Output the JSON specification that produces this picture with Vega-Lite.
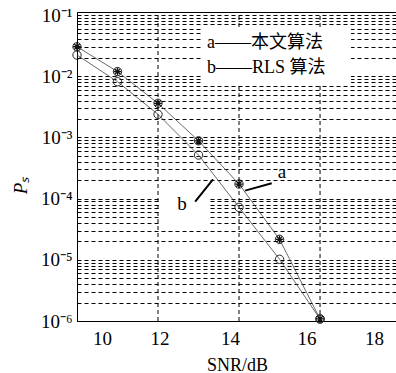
{
  "$schema": "https://vega.github.io/schema/vega-lite/v6.json",
  "width": 320,
  "height": 309,
  "autosize": {"type": "none"},
  "padding": {"left": 77, "top": 12, "right": 0, "bottom": 52},
  "background": "white",
  "config": {"view": {"stroke": "black", "strokeWidth": 1}, "font": "Liberation Serif"},
  "datasets": {
    "curves": [
      {"snr": 9.2, "ps": 0.0303, "series": "a"},
      {"snr": 10.4, "ps": 0.0119, "series": "a"},
      {"snr": 11.6, "ps": 0.00361, "series": "a"},
      {"snr": 12.8, "ps": 0.00088, "series": "a"},
      {"snr": 14.0, "ps": 0.000173, "series": "a"},
      {"snr": 15.2, "ps": 0.0000216, "series": "a"},
      {"snr": 16.4, "ps": 0.00000108, "series": "a"},
      {"snr": 9.2, "ps": 0.0222, "series": "b"},
      {"snr": 10.4, "ps": 0.00813, "series": "b"},
      {"snr": 11.6, "ps": 0.00238, "series": "b"},
      {"snr": 12.8, "ps": 0.000515, "series": "b"},
      {"snr": 14.0, "ps": 0.000072, "series": "b"},
      {"snr": 15.2, "ps": 0.0000102, "series": "b"},
      {"snr": 16.4, "ps": 0.00000108, "series": "b"}
    ],
    "vgrid": [
      {"snr": 11.6, "ps": 0.000001, "ps2": 0.112},
      {"snr": 14.0, "ps": 0.000001, "ps2": 0.112},
      {"snr": 16.4, "ps": 0.000001, "ps2": 0.112}
    ],
    "boxes": [
      {"snr": 12.93, "snr2": 17.32, "ps": 0.0613, "ps2": 0.00718},
      {"snr": 11.63, "snr2": 13.08, "ps": 0.000128, "ps2": 0.000037}
    ],
    "legend": [
      {"snr": 13.05, "ps": 0.0349, "label": "a——本文算法"},
      {"snr": 13.05, "ps": 0.0136, "label": "b——RLS 算法"}
    ],
    "pointers": [
      {"snr": 14.18, "ps": 0.000135, "snr2": 14.97, "ps2": 0.000178},
      {"snr": 12.70, "ps": 0.000089, "snr2": 13.23, "ps2": 0.000207}
    ],
    "pointerLabels": [
      {"snr": 15.27, "ps": 0.000275, "label": "a"},
      {"snr": 12.31, "ps": 0.000082, "label": "b"}
    ]
  },
  "encoding": {
    "x": {
      "field": "snr", "type": "quantitative",
      "scale": {"domain": [9.2, 18.68], "nice": false, "zero": false},
      "axis": {
        "values": [10, 12, 14, 16, 18],
        "grid": false, "ticks": false,
        "domainColor": "black", "domainWidth": 1,
        "labelFont": "Liberation Serif", "labelFontSize": 19, "labelColor": "black",
        "labelPadding": 8, "labelFlush": false,
        "labelOffset": {"condition": [{"test": "datum.value == 12", "value": -12}, {"test": "datum.value == 14", "value": -9}, {"test": "datum.value == 10", "value": -2}], "value": 0},
        "title": "SNR/dB", "titleFont": "Liberation Serif", "titleFontSize": 18,
        "titleFontWeight": "normal", "titleColor": "black", "titlePadding": 8
      }
    },
    "y": {
      "field": "ps", "type": "quantitative",
      "scale": {"type": "log", "domain": [0.000001, 0.112], "nice": false},
      "axis": {
        "values": [0.000001, 0.000002, 0.000003, 0.000004, 0.000005, 0.000006, 0.000007, 0.000008, 0.000009,
                   0.00001, 0.00002, 0.00003, 0.00004, 0.00005, 0.00006, 0.00007, 0.00008, 0.00009,
                   0.0001, 0.0002, 0.0003, 0.0004, 0.0005, 0.0006, 0.0007, 0.0008, 0.0009,
                   0.001, 0.002, 0.003, 0.004, 0.005, 0.006, 0.007, 0.008, 0.009,
                   0.01, 0.02, 0.03, 0.04, 0.05, 0.06, 0.07, 0.08, 0.09, 0.1],
        "labelExpr": "abs(log(datum.value)/LN10 - round(log(datum.value)/LN10)) < 0.001 ? '10' + ['⁰','⁻¹','⁻²','⁻³','⁻⁴','⁻⁵','⁻⁶'][-round(log(datum.value)/LN10)] : ''",
        "labelOverlap": false, "labelFlush": false,
        "grid": true, "gridDash": [4, 3], "gridColor": "black", "gridWidth": 1,
        "ticks": false, "domainColor": "black", "domainWidth": 1,
        "labelFont": "Liberation Serif", "labelFontSize": 19, "labelColor": "black", "labelPadding": 5,
        "title": "Pₛ", "titleFont": "Liberation Serif", "titleFontSize": 19, "titleFontStyle": "italic",
        "titleFontWeight": "normal", "titleColor": "black", "titlePadding": 10, "titleY": 173
      }
    }
  },
  "layer": [
    {
      "data": {"name": "vgrid"},
      "mark": {"type": "rule", "strokeDash": [4, 3], "color": "black", "strokeWidth": 1},
      "encoding": {"y2": {"field": "ps2"}}
    },
    {
      "data": {"name": "boxes"},
      "mark": {"type": "rect", "fill": "white"},
      "encoding": {"x2": {"field": "snr2"}, "y2": {"field": "ps2"}}
    },
    {
      "data": {"name": "curves"},
      "mark": {"type": "line", "color": "#444", "strokeWidth": 0.8},
      "encoding": {"detail": {"field": "series"}}
    },
    {
      "data": {"name": "curves"},
      "mark": {"type": "point", "shape": "circle", "filled": false, "size": 70, "color": "#111", "strokeWidth": 0.9, "opacity": 1}
    },
    {
      "data": {"name": "curves"},
      "transform": [{"filter": "datum.series == 'a'"}],
      "mark": {"type": "point", "shape": "M-1,0L1,0M0,-1L0,1M-0.7,-0.7L0.7,0.7M-0.7,0.7L0.7,-0.7", "filled": false, "size": 60, "color": "#111", "strokeWidth": 1.3, "opacity": 1}
    },
    {
      "data": {"name": "pointers"},
      "mark": {"type": "rule", "color": "black", "strokeWidth": 2},
      "encoding": {"x2": {"field": "snr2"}, "y2": {"field": "ps2"}}
    },
    {
      "data": {"name": "pointerLabels"},
      "mark": {"type": "text", "font": "Liberation Serif", "fontSize": 19, "color": "black", "align": "center", "baseline": "middle"},
      "encoding": {"text": {"field": "label"}}
    },
    {
      "data": {"name": "legend"},
      "mark": {"type": "text", "font": "Liberation Serif, Noto Sans CJK SC", "fontSize": 18, "color": "black", "align": "left", "baseline": "middle"},
      "encoding": {"text": {"field": "label"}}
    }
  ]
}
